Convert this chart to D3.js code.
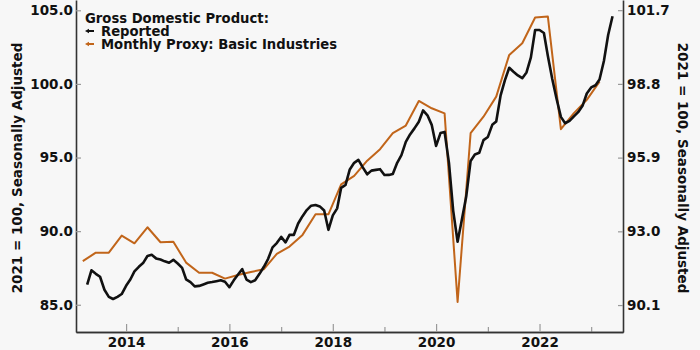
<!DOCTYPE html>
<html>
<head>
<meta charset="utf-8">
<script src="https://cdn.jsdelivr.net/npm/d3@7"></script>
<style>
  html, body { margin: 0; padding: 0; background: #f7f7f7; }
  svg { display: block; font-family: "DejaVu Sans", Verdana, sans-serif; font-weight: bold; }
</style>
</head>
<body>
<div id="chart"></div>
<script>
// Reported GDP, monthly from Apr 2013 (left axis)
var reportedStart = new Date(2013, 3, 1);
var reported = [
  86.36, 87.34, 87.10, 86.90, 86.02, 85.54, 85.39, 85.54, 85.73, 86.29, 86.73, 87.27,
  87.58, 87.83, 88.31, 88.39, 88.15, 88.07, 87.95, 87.85, 88.05, 87.80, 87.51, 86.73,
  86.54, 86.25, 86.28, 86.38, 86.49, 86.54, 86.60, 86.66, 86.56, 86.19, 86.66, 87.04,
  87.42, 86.71, 86.54, 86.66, 87.10, 87.58, 88.12, 88.90, 89.19, 89.61, 89.24, 89.75,
  89.75, 90.52, 91.02, 91.43, 91.73, 91.78, 91.68, 91.40, 90.09, 91.07, 91.55, 92.94,
  93.14, 94.19, 94.64, 94.84, 94.33, 93.86, 94.11, 94.16, 94.21, 93.81, 93.82, 93.88,
  94.64, 95.16, 96.06, 96.57, 96.98, 97.43, 98.20, 97.87, 97.22, 95.79, 96.66, 96.74,
  94.64, 91.38, 89.28, 90.77, 92.35, 94.77, 95.21, 95.32, 96.18, 96.40, 97.22, 97.45,
  99.22, 100.24, 101.10, 100.83, 100.58, 100.39, 100.78, 101.80, 103.66, 103.66, 103.46, 101.90,
  100.34, 99.01, 97.76, 97.33, 97.49, 97.80, 98.08, 98.51, 99.35, 99.76, 99.91, 100.30,
  101.56, 103.32, 104.60
];

// Monthly proxy: basic industries, quarterly from Mar 2013 (right axis)
var proxyStart = new Date(2013, 2, 1);
var proxy = [
  91.83, 92.16, 92.16, 92.83, 92.53, 93.16, 92.57, 92.59, 91.77, 91.37,
  91.37, 91.14, 91.28, 91.40, 91.51, 92.11, 92.40, 92.86, 93.67, 93.67,
  94.85, 95.18, 95.78, 96.23, 96.86, 97.16, 98.13, 97.84, 97.64, 90.22,
  96.86, 97.51, 98.30, 99.94, 100.40, 101.41, 101.45, 97.02, 97.65, 98.17,
  98.89
];

var leftTicks = [85, 90, 95, 100, 105];
var rightTicks = [90.1, 93.0, 95.9, 98.8, 101.7];
var yearTicks = [2014, 2016, 2018, 2020, 2022];
var minorYears = [2015, 2017, 2019, 2021, 2023];

var legendTitle = "Gross Domestic Product:";
var seriesNames = ["Reported", "Monthly Proxy: Basic Industries"];
var seriesColors = ["#111111", "#c1651a"];
var axisTitle = "2021 = 100, Seasonally Adjusted";

var W = 700, H = 350;
var margin = {top: 0, right: 77, bottom: 18, left: 76};
var w = W - margin.left - margin.right;
var h = H - margin.top - margin.bottom;

var svg = d3.select("#chart").append("svg")
  .attr("width", W)
  .attr("height", H);

svg.append("rect").attr("width", W).attr("height", H).attr("fill", "#f7f7f7");

var g = svg.append("g")
  .attr("transform", "translate(" + margin.left + "," + margin.top + ")");

var x = d3.scaleTime()
  .domain([new Date(2013, 0, 12), new Date(2023, 7, 14)])
  .range([0, w]);

var yLeft = d3.scaleLinear().domain([83.15, 105.7]).range([h, 0]);
var yRight = d3.scaleLinear().domain([89.04, 102.1]).range([h, 0]);

var repData = reported.map(function(v, i) {
  return {date: d3.timeMonth.offset(reportedStart, i), value: v};
});
var proxyData = proxy.map(function(v, i) {
  return {date: d3.timeMonth.offset(proxyStart, i * 3), value: v};
});

// axes
var xAxis = d3.axisBottom(x)
  .tickValues(yearTicks.map(function(y) { return new Date(y, 0, 1); }))
  .tickFormat(d3.timeFormat("%Y"))
  .tickSizeInner(-8).tickSizeOuter(0).tickPadding(5);

var xMinor = d3.axisBottom(x)
  .tickValues(minorYears.map(function(y) { return new Date(y, 0, 1); }))
  .tickFormat("")
  .tickSizeInner(-5).tickSizeOuter(0);

var leftAxis = d3.axisLeft(yLeft)
  .tickValues(leftTicks)
  .tickFormat(d3.format(".1f"))
  .tickSizeInner(-5).tickSizeOuter(0).tickPadding(3);

var rightAxis = d3.axisRight(yRight)
  .tickValues(rightTicks)
  .tickFormat(d3.format(".1f"))
  .tickSizeInner(-5).tickSizeOuter(0).tickPadding(4);

function styleAxis(sel) {
  sel.select(".domain").attr("stroke", "#333").attr("stroke-width", 1.6);
  sel.selectAll(".tick line").attr("stroke", "#999").attr("stroke-width", 1.2);
  sel.selectAll(".tick text")
    .attr("fill", "#111")
    .style("font-family", "'DejaVu Sans', Verdana, sans-serif")
    .style("font-weight", "bold")
    .style("font-size", "13.5px");
}

g.append("g").attr("transform", "translate(0," + h + ")").call(xMinor).call(styleAxis);
g.append("g").attr("transform", "translate(0," + h + ")").call(xAxis).call(styleAxis);
g.append("g").call(leftAxis).call(styleAxis);
g.append("g").attr("transform", "translate(" + w + ",0)").call(rightAxis).call(styleAxis);

// lines
var lineLeft = d3.line()
  .x(function(d) { return x(d.date); })
  .y(function(d) { return yLeft(d.value); });

var lineRight = d3.line()
  .x(function(d) { return x(d.date); })
  .y(function(d) { return yRight(d.value); });

g.append("path")
  .datum(proxyData)
  .attr("fill", "none")
  .attr("stroke", seriesColors[1])
  .attr("stroke-width", 2)
  .attr("stroke-linejoin", "round")
  .attr("d", lineRight);

g.append("path")
  .datum(repData)
  .attr("fill", "none")
  .attr("stroke", seriesColors[0])
  .attr("stroke-width", 2.6)
  .attr("stroke-linejoin", "round")
  .attr("d", lineLeft);

// axis titles
svg.append("text")
  .attr("transform", "translate(22," + (h / 2 + 2) + ") rotate(-90)")
  .attr("text-anchor", "middle")
  .attr("font-size", "13.5px")
  .attr("fill", "#111")
  .text(axisTitle);

svg.append("text")
  .attr("transform", "translate(678," + (h / 2 + 2) + ") rotate(90)")
  .attr("text-anchor", "middle")
  .attr("font-size", "13.5px")
  .attr("fill", "#111")
  .text(axisTitle);

// legend
var legend = svg.append("g").attr("transform", "translate(85,0)");

legend.append("text")
  .attr("x", 0).attr("y", 23)
  .attr("font-size", "13.2px")
  .attr("fill", "#111")
  .text(legendTitle);

seriesNames.forEach(function(name, i) {
  var yy = 31 + i * 13;
  legend.append("line")
    .attr("x1", 2).attr("x2", 9)
    .attr("y1", yy).attr("y2", yy)
    .attr("stroke", seriesColors[i])
    .attr("stroke-width", 2);
  legend.append("path")
    .attr("d", "M0," + yy + "L4," + (yy - 2.2) + "L4," + (yy + 2.2) + "Z")
    .attr("fill", seriesColors[i]);
  legend.append("text")
    .attr("x", 16).attr("y", yy + 5)
    .attr("font-size", "13.2px")
    .attr("fill", "#111")
    .text(name);
});
</script>
</body>
</html>
